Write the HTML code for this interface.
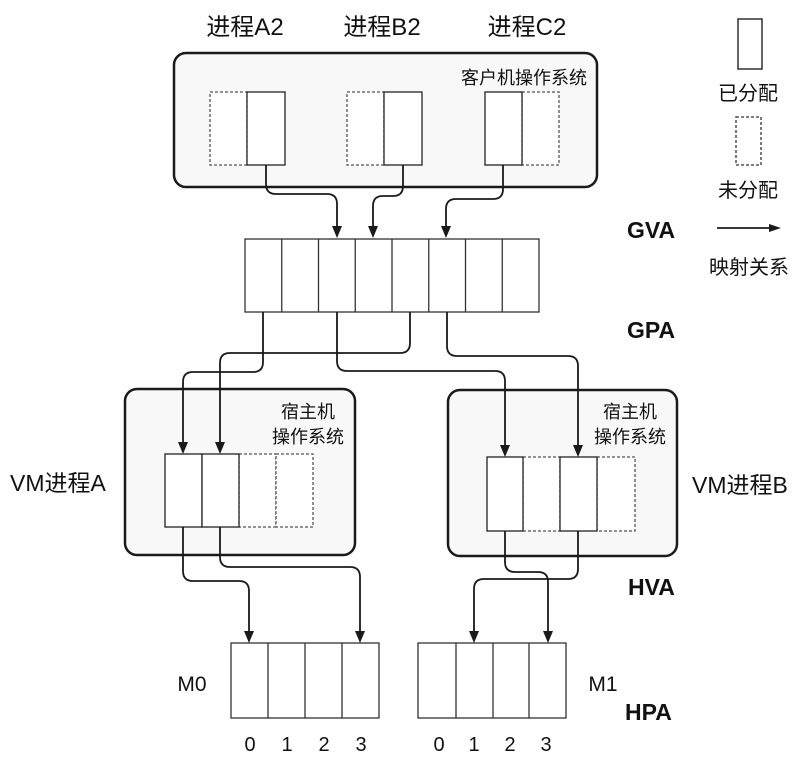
<!DOCTYPE html>
<html><head><meta charset="utf-8"><style>
html,body{margin:0;padding:0;background:#fff;}
svg{display:block;}
text{font-family:"Liberation Sans","Noto Sans CJK SC",sans-serif;fill:#111;}
.b{font-weight:bold;}
</style></head><body>
<svg width="800" height="757" viewBox="0 0 800 757" xmlns="http://www.w3.org/2000/svg">
<g fill="none" stroke="#1a1a1a">
<rect x="174" y="53" width="423" height="134" rx="12" fill="#f8f8f8" stroke-width="2.5"/>
<rect x="125" y="389" width="230" height="166" rx="12" fill="#f8f8f8" stroke-width="2.5"/>
<rect x="448" y="390" width="229" height="166" rx="12" fill="#f8f8f8" stroke-width="2.5"/>
</g>

<g stroke-width="1.3">
<rect x="210" y="92" width="37" height="73" fill="#fff" stroke="#555" stroke-dasharray="3,2"/>
<rect x="247" y="92" width="38" height="73" fill="#fff" stroke="#222"/>
<rect x="347" y="92" width="37" height="73" fill="#fff" stroke="#555" stroke-dasharray="3,2"/>
<rect x="384" y="92" width="38" height="73" fill="#fff" stroke="#222"/>
<rect x="522" y="92" width="37" height="73" fill="#fff" stroke="#555" stroke-dasharray="3,2"/>
<rect x="485" y="92" width="37" height="73" fill="#fff" stroke="#222"/>
</g>

<g stroke="#333" stroke-width="1.3" fill="#fff">
<rect x="245" y="239" width="294" height="73"/>
<line x1="281.75" y1="239" x2="281.75" y2="312"/>
<line x1="318.5" y1="239" x2="318.5" y2="312"/>
<line x1="355.25" y1="239" x2="355.25" y2="312"/>
<line x1="392" y1="239" x2="392" y2="312"/>
<line x1="428.75" y1="239" x2="428.75" y2="312"/>
<line x1="465.5" y1="239" x2="465.5" y2="312"/>
<line x1="502.25" y1="239" x2="502.25" y2="312"/>
</g>

<g stroke-width="1.3">
<rect x="239" y="454" width="37" height="73" fill="#fff" stroke="#555" stroke-dasharray="3,2"/>
<rect x="276" y="454" width="37" height="73" fill="#fff" stroke="#555" stroke-dasharray="3,2"/>
<rect x="165" y="454" width="37" height="73" fill="#fff" stroke="#222"/>
<rect x="202" y="454" width="37" height="73" fill="#fff" stroke="#222"/>
</g>
<g stroke-width="1.3">
<rect x="523" y="457" width="37" height="74" fill="#fff" stroke="#555" stroke-dasharray="3,2"/>
<rect x="597" y="457" width="38" height="74" fill="#fff" stroke="#555" stroke-dasharray="3,2"/>
<rect x="487" y="457" width="36" height="74" fill="#fff" stroke="#222"/>
<rect x="560" y="457" width="37" height="74" fill="#fff" stroke="#222"/>
</g>

<g stroke="#333" stroke-width="1.3" fill="#fff">
<rect x="231" y="643" width="148" height="75"/>
<line x1="268" y1="643" x2="268" y2="718"/>
<line x1="305" y1="643" x2="305" y2="718"/>
<line x1="342" y1="643" x2="342" y2="718"/>
<rect x="418" y="643" width="148" height="75"/>
<line x1="456" y1="643" x2="456" y2="718"/>
<line x1="493" y1="643" x2="493" y2="718"/>
<line x1="529" y1="643" x2="529" y2="718"/>
</g>

<g fill="none" stroke="#1a1a1a" stroke-width="1.8">
<path d="M266 165 V184 Q266 194 276 194 H327 Q337 194 337 204 V228"/>
<path d="M403 165 V186 Q403 196 393 196 H383 Q373 196 373 206 V228"/>
<path d="M503 165 V189 Q503 199 493 199 H456 Q446 199 446 209 V228"/>

<path d="M263 312 V362 Q263 372 253 372 H193 Q183 372 183 382 V444"/>
<path d="M410 312 V343 Q410 353 400 353 H230 Q220 353 220 363 V444"/>
<path d="M337 312 V361 Q337 371 347 371 H495 Q505 371 505 381 V447"/>
<path d="M447 312 V346 Q447 356 457 356 H568 Q578 356 578 366 V447"/>

<path d="M183 527 V571 Q183 581 193 581 H239 Q249 581 249 591 V633"/>
<path d="M220 527 V557 Q220 567 230 567 H350 Q360 567 360 577 V633"/>

<path d="M505 531 V562 Q505 572 515 572 H538 Q548 572 548 582 V633"/>
<path d="M578 531 V569 Q578 579 568 579 H484 Q474 579 474 589 V633"/>

<path d="M717 228 H771"/>
</g>
<g fill="#1a1a1a">
<polygon points="337,238 332,226 342,226"/>
<polygon points="373,238 368,226 378,226"/>
<polygon points="446,238 441,226 451,226"/>
<polygon points="183,454 178,442 188,442"/>
<polygon points="220,454 215,442 225,442"/>
<polygon points="505,457 500,445 510,445"/>
<polygon points="578,457 573,445 583,445"/>
<polygon points="249,643 244,631 254,631"/>
<polygon points="360,643 355,631 365,631"/>
<polygon points="474,643 469,631 479,631"/>
<polygon points="548,643 543,631 553,631"/>
<polygon points="781,228 769,224 769,232"/>
</g>

<rect x="738" y="19" width="24" height="50" fill="#fff" stroke="#222" stroke-width="1.4"/>
<rect x="736" y="117" width="25" height="48" fill="#fff" stroke="#333" stroke-width="1.3" stroke-dasharray="3,2"/>

<g font-size="24" text-anchor="middle">
<text x="245" y="35">进程A2</text>
<text x="382" y="35">进程B2</text>
<text x="527" y="35">进程C2</text>
</g>
<text x="587" y="84" font-size="18" text-anchor="end">客户机操作系统</text>
<g font-size="20" text-anchor="middle">
<text x="748" y="100">已分配</text>
<text x="748" y="197">未分配</text>
<text x="749" y="274">映射关系</text>
</g>
<g font-size="23" class="b">
<text x="627" y="238" class="b">GVA</text>
<text x="627" y="338" class="b">GPA</text>
<text x="628" y="595" class="b">HVA</text>
<text x="625" y="720" class="b">HPA</text>
</g>
<g font-size="23">
<text x="10" y="491">VM进程A</text>
<text x="692" y="493">VM进程B</text>
</g>
<g font-size="18" text-anchor="middle">
<text x="308" y="418">宿主机</text>
<text x="308" y="443">操作系统</text>
<text x="630" y="418">宿主机</text>
<text x="630" y="443">操作系统</text>
</g>
<g font-size="21" text-anchor="middle">
<text x="192" y="691">M0</text>
<text x="603" y="691">M1</text>
</g>
<g font-size="20" text-anchor="middle">
<text x="250" y="751">0</text>
<text x="287" y="751">1</text>
<text x="324" y="751">2</text>
<text x="361" y="751">3</text>
<text x="439" y="751">0</text>
<text x="474" y="751">1</text>
<text x="510" y="751">2</text>
<text x="546" y="751">3</text>
</g>
</svg>
</body></html>
